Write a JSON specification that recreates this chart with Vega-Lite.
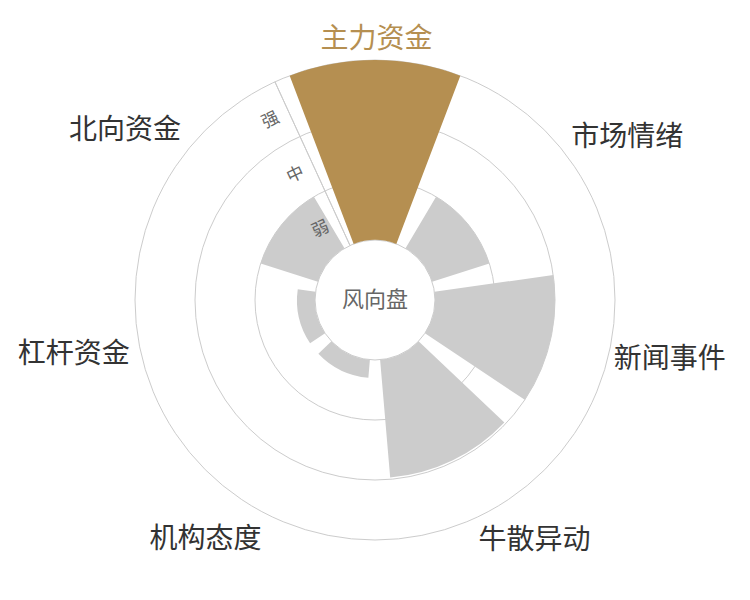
{
  "$schema": "https://vega.github.io/schema/vega-lite/v6.json",
  "width": 750,
  "height": 600,
  "padding": 0,
  "autosize": "none",
  "background": "white",
  "config": {"view": {"stroke": null}, "font": "Noto Sans CJK SC"},
  "datasets": {
    "cats": [
      {"name": "主力资金", "value": 3},
      {"name": "市场情绪", "value": 1},
      {"name": "新闻事件", "value": 2},
      {"name": "牛散异动", "value": 1.97},
      {"name": "机构态度", "value": 0.3},
      {"name": "杠杆资金", "value": 0.3},
      {"name": "北向资金", "value": 1}
    ],
    "rings": [{"ring": 0}, {"ring": 1}, {"ring": 2}, {"ring": 3}],
    "levels": [
      {"level": "弱", "mid": 0.5},
      {"level": "中", "mid": 1.5},
      {"level": "强", "mid": 2.5}
    ],
    "center": [{"label": "风向盘"}]
  },
  "encoding": {
    "theta": {
      "field": "name",
      "type": "nominal",
      "scale": {
        "type": "band",
        "domain": ["主力资金", "市场情绪", "新闻事件", "牛散异动", "机构态度", "杠杆资金", "北向资金"],
        "range": [-0.448799, 5.834386],
        "paddingInner": 0.19,
        "paddingOuter": 0.095
      }
    }
  },
  "layer": [
    {
      "data": {"name": "rings"},
      "mark": {"type": "arc", "filled": false, "stroke": "#cccccc", "strokeWidth": 1},
      "encoding": {
        "theta": {"value": 0},
        "theta2": {"value": 6.2832},
        "radius": {"field": "ring", "type": "quantitative", "stack": null, "scale": {"type": "linear", "domain": [0, 3], "range": [60, 240], "zero": false, "nice": false}},
        "radius2": {"value": 0}
      }
    },
    {
      "data": {"name": "rings"},
      "transform": [{"filter": "datum.ring === 3"}],
      "mark": {"type": "arc", "filled": false, "stroke": "#cccccc", "strokeWidth": 1},
      "encoding": {
        "theta": {"value": -0.43},
        "theta2": {"value": -0.43},
        "radius": {"field": "ring", "type": "quantitative", "stack": null, "scale": {"type": "linear", "domain": [0, 3], "range": [60, 240], "zero": false, "nice": false}},
        "radius2": {"datum": 0}
      }
    },
    {
      "data": {"name": "cats"},
      "mark": {"type": "arc", "strokeWidth": 0},
      "encoding": {
        "radius": {"field": "value", "type": "quantitative", "stack": null, "scale": {"type": "linear", "domain": [0, 3], "range": [60, 240], "zero": false, "nice": false}},
        "radius2": {"datum": 0},
        "color": {"condition": {"test": "datum.name === '主力资金'", "value": "#b58f51"}, "value": "#cccccc"}
      }
    },
    {
      "data": {"name": "levels"},
      "mark": {"type": "text", "angle": -25, "dx": -20, "dy": 3, "align": "center", "baseline": "middle", "fontSize": 17, "color": "#666666"},
      "encoding": {
        "theta": {"value": -0.43},
        "radius": {"field": "mid", "type": "quantitative", "stack": null, "scale": {"type": "linear", "domain": [0, 3], "range": [60, 240], "zero": false, "nice": false}},
        "text": {"field": "level"}
      }
    },
    {
      "data": {"name": "center"},
      "mark": {"type": "text", "align": "center", "baseline": "middle", "fontSize": 22, "color": "#666666"},
      "encoding": {"theta": {"value": 0}, "text": {"field": "label"}}
    },
    {
      "data": {"name": "cats"},
      "transform": [{"filter": "datum.name === '主力资金'"}],
      "mark": {"type": "text", "align": "center", "baseline": "bottom", "fontSize": 28, "color": "#b58f51", "radius": 248, "dx": 1.5, "dy": 2},
      "encoding": {"text": {"field": "name"}}
    },
    {
      "data": {"name": "cats"},
      "transform": [{"filter": "datum.name === '市场情绪'"}],
      "mark": {"type": "text", "align": "left", "baseline": "bottom", "fontSize": 28, "color": "#333333", "radius": 248, "dx": 2.4, "dy": 6.4},
      "encoding": {"text": {"field": "name"}}
    },
    {
      "data": {"name": "cats"},
      "transform": [{"filter": "datum.name === '新闻事件'"}],
      "mark": {"type": "text", "align": "left", "baseline": "middle", "fontSize": 28, "color": "#333333", "radius": 248, "dx": -3, "dy": 5},
      "encoding": {"text": {"field": "name"}}
    },
    {
      "data": {"name": "cats"},
      "transform": [{"filter": "datum.name === '牛散异动'"}],
      "mark": {"type": "text", "align": "left", "baseline": "top", "fontSize": 28, "color": "#333333", "radius": 248, "dx": -4, "dy": 4},
      "encoding": {"text": {"field": "name"}}
    },
    {
      "data": {"name": "cats"},
      "transform": [{"filter": "datum.name === '机构态度'"}],
      "mark": {"type": "text", "align": "right", "baseline": "top", "fontSize": 28, "color": "#333333", "radius": 248, "dx": -6, "dy": 2.4},
      "encoding": {"text": {"field": "name"}}
    },
    {
      "data": {"name": "cats"},
      "transform": [{"filter": "datum.name === '杠杆资金'"}],
      "mark": {"type": "text", "align": "right", "baseline": "middle", "fontSize": 28, "color": "#333333", "radius": 248, "dx": -3.5, "dy": 0},
      "encoding": {"text": {"field": "name"}}
    },
    {
      "data": {"name": "cats"},
      "transform": [{"filter": "datum.name === '北向资金'"}],
      "mark": {"type": "text", "align": "right", "baseline": "bottom", "fontSize": 28, "color": "#333333", "radius": 248},
      "encoding": {"text": {"field": "name"}}
    }
  ]
}
